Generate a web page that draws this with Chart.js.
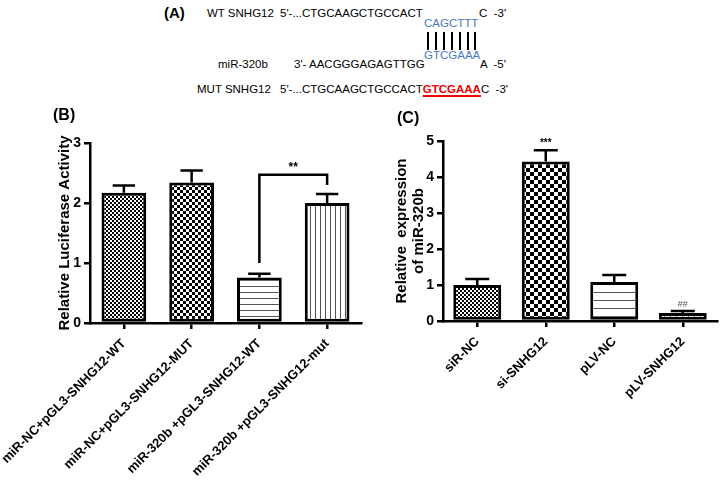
<!DOCTYPE html>
<html>
<head>
<meta charset="utf-8">
<script src="https://cdn.jsdelivr.net/npm/chart.js@4.4.0/dist/chart.umd.min.js"></script>
<style>
  body { margin: 0; width: 720px; height: 480px; background: #fff; position: relative; overflow: hidden;
         font-family: "Liberation Sans", Arial, sans-serif; }
  .t { position: absolute; white-space: pre; font-size: 11.5px; line-height: 13px; color: #000; }
  .blue { color: #4a78c8; }
  .red { color: #f00000; font-weight: bold; text-decoration: underline; text-decoration-thickness: 2px; text-underline-offset: 2px; }
  .lbl { position: absolute; font-weight: bold; font-size: 16px; line-height: 18px; }
  .pair { position: absolute; width: 2px; height: 18px; top: 32px; background: #000; }
  canvas { position: absolute; }
</style>
</head>
<body>

<!-- панель A: последовательности -->
<div class="lbl" style="left:164px;top:4px;font-size:15px">(A)</div>
<div class="t" style="left:207px;top:7px">WT SNHG12</div>
<div class="t" style="left:280px;top:7px">5'-...CTGCAAGCTGCCACT</div>
<div class="t" style="left:479px;top:7px">C  -3'</div>
<div class="t blue" style="left:424px;top:17px">CAGCTTT</div>
<div class="pair" style="left:427px"></div>
<div class="pair" style="left:435px"></div>
<div class="pair" style="left:443px"></div>
<div class="pair" style="left:451px"></div>
<div class="pair" style="left:459px"></div>
<div class="pair" style="left:467px"></div>
<div class="pair" style="left:474px"></div>
<div class="t blue" style="left:424px;top:49px">GTCGAAA</div>
<div class="t" style="left:218px;top:58px">miR-320b</div>
<div class="t" style="left:294px;top:58px">3'- AACGGGAGAGTTGG</div>
<div class="t" style="left:480px;top:58px">A  -5'</div>
<div class="t" style="left:197px;top:83px">MUT SNHG12</div>
<div class="t" style="left:280px;top:83px">5'-...CTGCAAGCTGCCACT<span class="red">GTCGAAA</span>C  -3'</div>

<canvas id="chartB" width="370" height="380" style="left:0;top:100px"></canvas>
<canvas id="chartC" width="350" height="380" style="left:370px;top:100px"></canvas>

<div class="lbl" style="left:53px;top:106px">(B)</div>
<div class="lbl" style="left:397px;top:109px">(C)</div>

<script>
// Данные панели B
const labelsB = ['miR-NC+pGL3-SNHG12-WT', 'miR-NC+pGL3-SNHG12-MUT', 'miR-320b +pGL3-SNHG12-WT', 'miR-320b +pGL3-SNHG12-mut'];
const meanB = [2.17, 2.34, 0.76, 2.0];
const errB = [0.12, 0.2, 0.06, 0.15];
const ticksB = [0, 1, 2, 3];
const bracketB = { from: 2, to: 3, left: 1.0, top: 2.47, right: 2.3, text: '**' };

// Данные панели C
const labelsC = ['siR-NC', 'si-SNHG12', 'pLV-NC', 'pLV-SNHG12'];
const meanC = [1.0, 4.43, 1.08, 0.22];
const errC = [0.17, 0.31, 0.2, 0.06];
const ticksC = [0, 1, 2, 3, 4, 5];
const marksC = ['', '***', '', '##'];

Chart.defaults.font.family = '"Liberation Sans", Arial, sans-serif';
Chart.defaults.color = '#000';

// Штриховки для столбцов
function pattern(kind, size) {
    const c = document.createElement('canvas');
    const g = c.getContext('2d');
    if (kind === 'check') {
        c.width = c.height = size * 2;
        g.fillStyle = '#fff';
        g.fillRect(0, 0, size * 2, size * 2);
        g.fillStyle = '#000';
        g.fillRect(0, 0, size, size);
        g.fillRect(size, size, size, size);
    } else if (kind === 'hline') {
        c.width = 4; c.height = size;
        g.fillStyle = '#fff';
        g.fillRect(0, 0, 4, size);
        g.fillStyle = '#555';
        g.fillRect(0, 0, 4, 1);
    } else {
        c.width = size; c.height = 4;
        g.fillStyle = '#fff';
        g.fillRect(0, 0, size, 4);
        g.fillStyle = '#555';
        g.fillRect(0, 0, 1, 4);
    }
    return g.createPattern(c, 'repeat');
}

// Планки погрешностей, звёздочки и скобка значимости
const errorBars = {
    id: 'errorBars',
    afterDatasetsDraw(chart, args, opts) {
        const { ctx, scales: { y } } = chart;
        const bars = chart.getDatasetMeta(0).data;
        ctx.save();
        ctx.strokeStyle = '#000';
        ctx.lineWidth = 2.5;
        bars.forEach((bar, i) => {
            const top = y.getPixelForValue(opts.mean[i] + opts.err[i]);
            const cap = bar.width * 0.25;
            ctx.beginPath();
            ctx.moveTo(bar.x, bar.y);
            ctx.lineTo(bar.x, top);
            ctx.moveTo(bar.x - cap, top);
            ctx.lineTo(bar.x + cap, top);
            ctx.stroke();
            if (opts.marks && opts.marks[i]) {
                const m = opts.marks[i];
                ctx.fillStyle = m === '##' ? '#555' : '#000';
                ctx.font = (m === '##' ? '9px' : 'bold 10px') + ' "Liberation Sans", Arial';
                ctx.textAlign = 'center';
                ctx.textBaseline = 'bottom';
                ctx.fillText(m, bar.x, top - 2);
            }
        });
        const b = opts.bracket;
        if (b) {
            const x1 = bars[b.from].x, x2 = bars[b.to].x;
            const yt = y.getPixelForValue(b.top);
            ctx.beginPath();
            ctx.moveTo(x1, y.getPixelForValue(b.left));
            ctx.lineTo(x1, yt);
            ctx.lineTo(x2, yt);
            ctx.lineTo(x2, y.getPixelForValue(b.right));
            ctx.stroke();
            ctx.fillStyle = '#000';
            ctx.font = 'bold 12px "Liberation Sans", Arial';
            ctx.textAlign = 'center';
            ctx.textBaseline = 'bottom';
            ctx.fillText(b.text, (x1 + x2) / 2, yt - 1);
        }
        ctx.restore();
    }
};

function axes(ticks, yTitle, yWidth, xHeight, titlePad, lineHeight) {
    return {
        x: {
            grid: { display: true, drawOnChartArea: false, drawTicks: true, tickLength: 6, offset: false, color: '#000', lineWidth: 2.5 },
            border: { display: true, color: '#000', width: 2.5 },
            ticks: { autoSkip: false, minRotation: 45, maxRotation: 45, font: { size: 13, weight: 'bold' }, padding: 7 },
            afterFit: s => { s.height = xHeight; s.paddingLeft = 0; s.paddingRight = 0; }
        },
        y: {
            min: ticks[0],
            max: ticks[ticks.length - 1],
            grid: { display: true, drawOnChartArea: false, drawTicks: true, tickLength: 6, color: '#000', lineWidth: 2.5 },
            border: { display: true, color: '#000', width: 2.5 },
            ticks: { font: { size: 14, weight: 'bold' }, padding: 3 },
            afterBuildTicks: s => { s.ticks = ticks.map(v => ({ value: v })); },
            title: { display: true, text: yTitle, font: { size: 15, weight: 'bold', lineHeight: lineHeight }, padding: { top: titlePad, bottom: 0 } },
            afterFit: s => { s.width = yWidth; }
        }
    };
}

document.addEventListener('DOMContentLoaded', function() {
    new Chart(document.getElementById('chartB'), {
        type: 'bar',
        data: {
            labels: labelsB,
            datasets: [{
                data: meanB,
                backgroundColor: [pattern('check', 2), pattern('check', 3), pattern('hline', 6), pattern('vline', 5)],
                borderColor: '#000',
                borderWidth: 3,
                borderSkipped: false,
                barPercentage: 0.66,
                categoryPercentage: 1
            }]
        },
        options: {
            responsive: false,
            animation: false,
            layout: { padding: { top: 43, right: 9, left: 0, bottom: 0 } },
            plugins: {
                legend: { display: false },
                tooltip: { enabled: false },
                errorBars: { mean: meanB, err: errB, bracket: bracketB }
            },
            scales: axes(ticksB, 'Relative Luciferase Activity', 90, 157, 56, 1.2)
        },
        plugins: [errorBars]
    });

    new Chart(document.getElementById('chartC'), {
        type: 'bar',
        data: {
            labels: labelsC,
            datasets: [{
                data: meanC,
                backgroundColor: [pattern('check', 2), pattern('check', 4), pattern('hline', 8), pattern('vline', 6)],
                borderColor: '#000',
                borderWidth: 3,
                borderSkipped: false,
                barPercentage: 0.7,
                categoryPercentage: 1
            }]
        },
        options: {
            responsive: false,
            animation: false,
            layout: { padding: { top: 41, right: 3, left: 0, bottom: 0 } },
            plugins: {
                legend: { display: false },
                tooltip: { enabled: false },
                errorBars: { mean: meanC, err: errC, marks: marksC }
            },
            scales: axes(ticksC, ['Relative  expression', 'of miR-320b'], 73, 159, 23, 1.15)
        },
        plugins: [errorBars]
    });
});
</script>
</body>
</html>
